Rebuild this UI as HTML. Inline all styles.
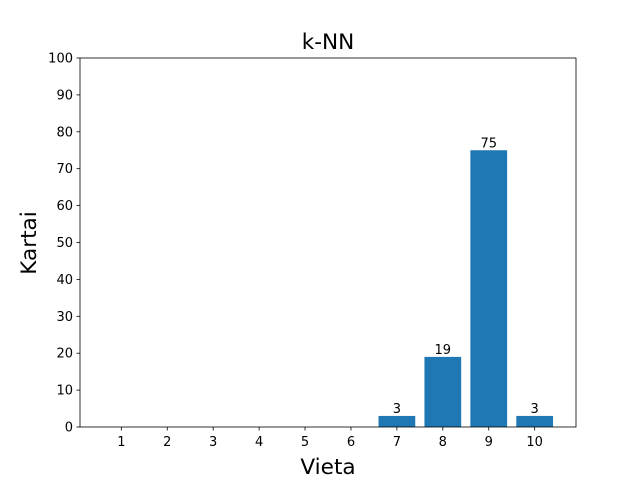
<!DOCTYPE html>
<html><head><meta charset="utf-8"><style>
body{margin:0;background:#fff;}
svg{display:block;font-family:"DejaVu Sans","Liberation Sans",sans-serif;}
</style></head><body>
<svg id="chart" width="640" height="480" viewBox="0 0 640 480" xmlns="http://www.w3.org/2000/svg">
<rect x="0" y="0" width="640" height="480" fill="#fff"/>
<text x="328" y="49" text-anchor="middle" font-size="21.6" fill="#000">k-NN</text>
<g id="bars"></g>
<g id="yticks"></g>
<g id="xticks"></g>
<rect x="80" y="58" width="496" height="369" fill="none" stroke="#000" stroke-width="0.8"/>
<text x="328" y="474" text-anchor="middle" font-size="21.6" fill="#000">Vieta</text>
<text transform="translate(36,243) rotate(-90)" text-anchor="middle" font-size="21.6" fill="#000">Kartai</text>
</svg>
<script>
const categories = [1,2,3,4,5,6,7,8,9,10];
const values = [0,0,0,0,0,0,3,19,75,3];
const yTicks = [0,10,20,30,40,50,60,70,80,90,100];
const NS = "http://www.w3.org/2000/svg";
const L=80,R=576,T=58,B=427;
const xMin=0.1,xMax=10.9,yMin=0,yMax=100;
const xs=v=>L+(v-xMin)/(xMax-xMin)*(R-L);
const ys=v=>B-(v-yMin)/(yMax-yMin)*(B-T);
function mk(tag,attrs,parent){const e=document.createElementNS(NS,tag);for(const k in attrs)e.setAttribute(k,attrs[k]);parent.appendChild(e);return e;}
const bars=document.getElementById('bars');
categories.forEach((c,i)=>{
  const v=values[i];
  const x0=xs(c-0.4),x1=xs(c+0.4);
  const r=mk('rect',{x:x0,y:ys(v),width:x1-x0,height:ys(0)-ys(v),fill:'#1f77b4'},bars);
  
  
  if(v!==0){
    const t=mk('text',{x:xs(c),y:ys(v)-3,'text-anchor':'middle','font-size':'13',fill:'#000'},bars);
    t.textContent=v;
    
    
  }
});
const yg=document.getElementById('yticks');
yTicks.forEach(v=>{
  const y=ys(v);
  const l=mk('line',{x1:L-3.5,x2:L,y1:y,y2:y,stroke:'#000','stroke-width':0.8},yg);
  
  
  const t=mk('text',{x:L-7,y:y+4.5,'text-anchor':'end','font-size':'13',fill:'#000'},yg);
  t.textContent=v;
  
  
});
const xg=document.getElementById('xticks');
categories.forEach(c=>{
  const x=xs(c);
  const l=mk('line',{x1:x,x2:x,y1:B,y2:B+3.5,stroke:'#000','stroke-width':0.8},xg);
  
  
  const t=mk('text',{x:x,y:B+19,'text-anchor':'middle','font-size':'13',fill:'#000'},xg);
  t.textContent=c;
  
  
});
</script>
</body></html>
